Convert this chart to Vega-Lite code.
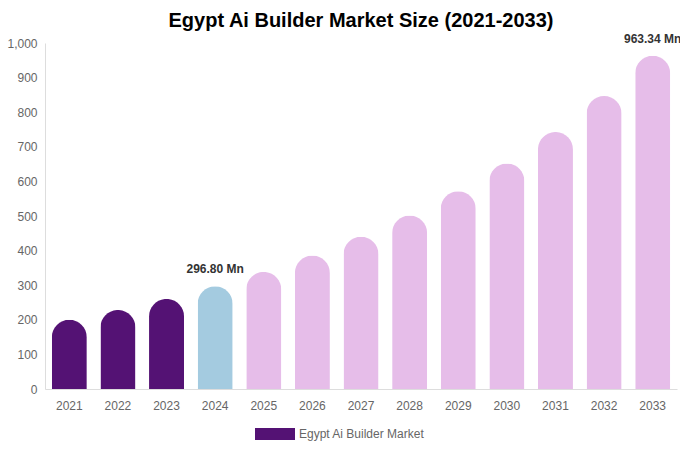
{
  "$schema": "https://vega.github.io/schema/vega-lite/v6.json",
  "width": 680,
  "height": 450,
  "autosize": {"type": "fit", "contains": "padding"},
  "padding": {"left": 6, "top": 14, "right": 0, "bottom": 39},
  "background": "white",
  "config": {
    "font": "Liberation Sans",
    "view": {"stroke": null}
  },
  "title": {
    "text": "Egypt Ai Builder Market Size (2021-2033)",
    "fontSize": 20,
    "fontWeight": "bold",
    "color": "#000000",
    "anchor": "middle",
    "offset": 2
  },
  "data": {
    "values": [
      {"year": "2021", "value": 200.3, "type": "Egypt Ai Builder Market", "label": ""},
      {"year": "2022", "value": 228.4, "type": "Egypt Ai Builder Market", "label": ""},
      {"year": "2023", "value": 260.4, "type": "Egypt Ai Builder Market", "label": ""},
      {"year": "2024", "value": 296.8, "type": "Base Year", "label": "296.80 Mn"},
      {"year": "2025", "value": 338.4, "type": "Forecast", "label": ""},
      {"year": "2026", "value": 385.8, "type": "Forecast", "label": ""},
      {"year": "2027", "value": 439.8, "type": "Forecast", "label": ""},
      {"year": "2028", "value": 501.4, "type": "Forecast", "label": ""},
      {"year": "2029", "value": 571.6, "type": "Forecast", "label": ""},
      {"year": "2030", "value": 651.6, "type": "Forecast", "label": ""},
      {"year": "2031", "value": 742.8, "type": "Forecast", "label": ""},
      {"year": "2032", "value": 846.8, "type": "Forecast", "label": ""},
      {"year": "2033", "value": 963.34, "type": "Forecast", "label": "963.34 Mn"}
    ]
  },
  "encoding": {
    "x": {
      "field": "year",
      "type": "ordinal",
      "scale": {"paddingInner": 0.28, "paddingOuter": 0.14},
      "axis": {
        "title": null,
        "labelAngle": 0,
        "labelColor": "#666666",
        "labelFontSize": 12,
        "labelPadding": 11,
        "ticks": false,
        "domainColor": "#dddddd"
      }
    },
    "y": {
      "field": "value",
      "type": "quantitative",
      "scale": {"domain": [0, 1000]},
      "axis": {
        "title": null,
        "grid": false,
        "ticks": false,
        "tickCount": 10,
        "labelColor": "#666666",
        "labelFontSize": 12,
        "labelPadding": 8,
        "domainColor": "#dddddd"
      }
    }
  },
  "layer": [
    {
      "mark": {"type": "bar", "cornerRadiusTopLeft": 17.5, "cornerRadiusTopRight": 17.5},
      "encoding": {
        "color": {
          "field": "type",
          "type": "nominal",
          "scale": {
            "domain": ["Egypt Ai Builder Market", "Base Year", "Forecast"],
            "range": ["#541274", "#a4cbe0", "#e6bde9"]
          },
          "legend": {
            "title": null,
            "orient": "none",
            "legendX": 210,
            "legendY": 371,
            "direction": "horizontal",
            "values": ["Egypt Ai Builder Market"],
            "symbolType": "M-1,-0.3L1,-0.3L1,0.3L-1,0.3Z",
            "symbolSize": 1600,
            "symbolStrokeWidth": 0,
            "labelFontSize": 12,
            "labelColor": "#666666"
          }
        }
      }
    },
    {
      "transform": [{"filter": "datum.label != ''"}],
      "mark": {"type": "text", "dy": -17, "fontSize": 12, "fontWeight": "bold", "color": "#333333"},
      "encoding": {"text": {"field": "label"}}
    }
  ]
}
